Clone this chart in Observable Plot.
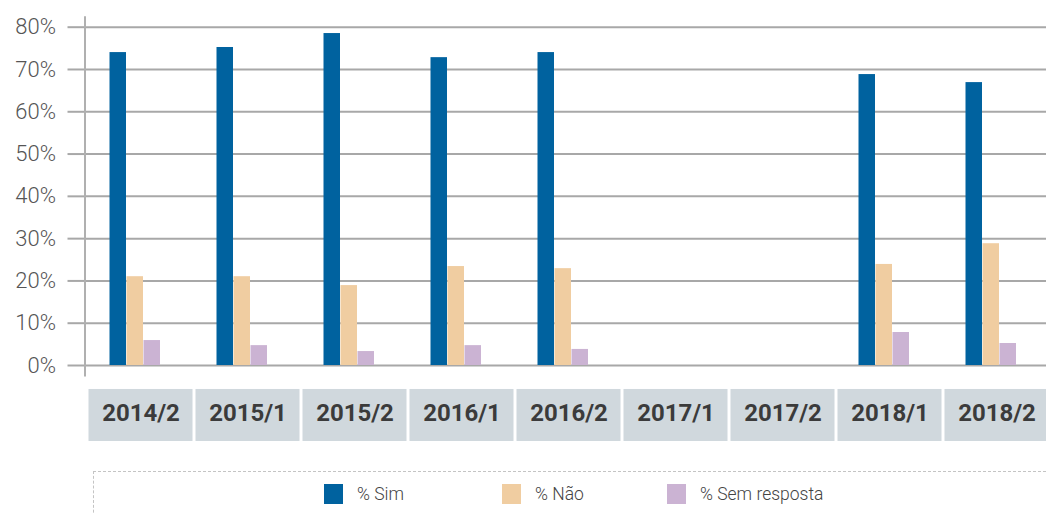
<!DOCTYPE html>
<html>
<head>
<meta charset="utf-8">
<script src="https://cdn.jsdelivr.net/npm/d3@7"></script>
<script src="https://cdn.jsdelivr.net/npm/@observablehq/plot@0.6"></script>
<style>
  body { margin: 0; background: #fff; font-family: Roboto, sans-serif; }
  #chart svg { display: block; }
  #legend {
    position: relative;
    margin-left: 92.5px;
    margin-top: 11px;
    height: 60px;
    border-top: 1px dashed #c4c4c4;
    border-left: 1px dashed #c4c4c4;
  }
  .item { position: absolute; top: 12px; display: flex; align-items: center;
          font-size: 17.5px; color: #444; font-weight: 300; white-space: nowrap; }
  .sw { width: 19.5px; height: 19.5px; margin-right: 14px; }
</style>
</head>
<body>
<div id="chart"></div>
<div id="legend"></div>
<script>
// ---- data ----
const categories = ["2014/2", "2015/1", "2015/2", "2016/1", "2016/2", "2017/1", "2017/2", "2018/1", "2018/2"];
const sim         = [74.0, 75.2, 78.5, 72.8, 74.0, null, null, 68.8, 66.9];
const nao         = [21.0, 21.0, 18.9, 23.4, 22.9, null, null, 23.9, 28.8];
const semResposta = [5.9, 4.7, 3.3, 4.7, 3.8, null, null, 7.8, 5.2];
const seriesNames  = ["% Sim", "% Não", "% Sem resposta"];
const seriesColors = ["#00629f", "#f0cda1", "#cbb3d3"];
const yTicks = [0, 10, 20, 30, 40, 50, 60, 70, 80];

// ---- layout constants (not data) ----
const BAND = 107.5, BAR_W = 17, GROUP_OFFSET = 22.5;
const BOX_TOP = -5.67, BOX_BOTTOM = -17.97; // label boxes below the baseline, in y units

const seriesValues = [sim, nao, semResposta];
const rows = [];
seriesNames.forEach((s, si) => categories.forEach((c, ci) => {
  const v = seriesValues[si][ci];
  if (v != null) rows.push({cat: c, series: s, si, value: v});
}));

const barMarks = seriesNames.map((s, si) => {
  const left = GROUP_OFFSET + si * BAR_W;
  return Plot.barY(rows.filter(d => d.si === si), {
    x: "cat", y: "value", fill: seriesColors[si],
    insetLeft: left, insetRight: BAND - left - BAR_W
  });
});

const chart = Plot.plot({
  width: 1046,
  height: 460,
  marginLeft: 84.5,
  marginRight: 0,
  marginTop: 26.7,
  marginBottom: 95,
  style: {fontFamily: "Roboto, sans-serif", background: "#fff"},
  x: {domain: categories, range: [84.5, 84.5 + BAND * categories.length], padding: 0},
  y: {domain: [0, 80]},
  marks: [
    Plot.gridY(yTicks, {stroke: "#a8a8a8", strokeOpacity: 1, strokeWidth: 2}),
    Plot.axisY({ticks: yTicks, tickFormat: d => d + "%", tickSize: 17, tickPadding: 12,
                fontSize: 22, fontWeight: 300, stroke: "#a8a8a8", strokeWidth: 2, fill: "#555", label: null}),
    Plot.frame({anchor: "left", insetTop: -10, insetBottom: -10, stroke: "#b0b0b0", strokeWidth: 2}),
    ...barMarks,
    Plot.barY(categories, {x: d => d, y1: BOX_TOP, y2: BOX_BOTTOM, fill: "#d0d8dd", insetLeft: 1.5, insetRight: 1.5}),
    Plot.axisX({tickSize: 0, tickPadding: 38, fontSize: 24, fontWeight: "bold", fill: "#3b3b3b", label: null})
  ]
});
document.getElementById("chart").appendChild(chart);

// ---- legend ----
const legendLefts = [230, 408, 573];
const legend = document.getElementById("legend");
seriesNames.forEach((s, i) => {
  const item = document.createElement("div");
  item.className = "item";
  item.style.left = legendLefts[i] + "px";
  const sw = document.createElement("span");
  sw.className = "sw";
  sw.style.background = seriesColors[i];
  const t = document.createElement("span");
  t.textContent = s;
  item.appendChild(sw); item.appendChild(t);
  legend.appendChild(item);
});
</script>
</body>
</html>
